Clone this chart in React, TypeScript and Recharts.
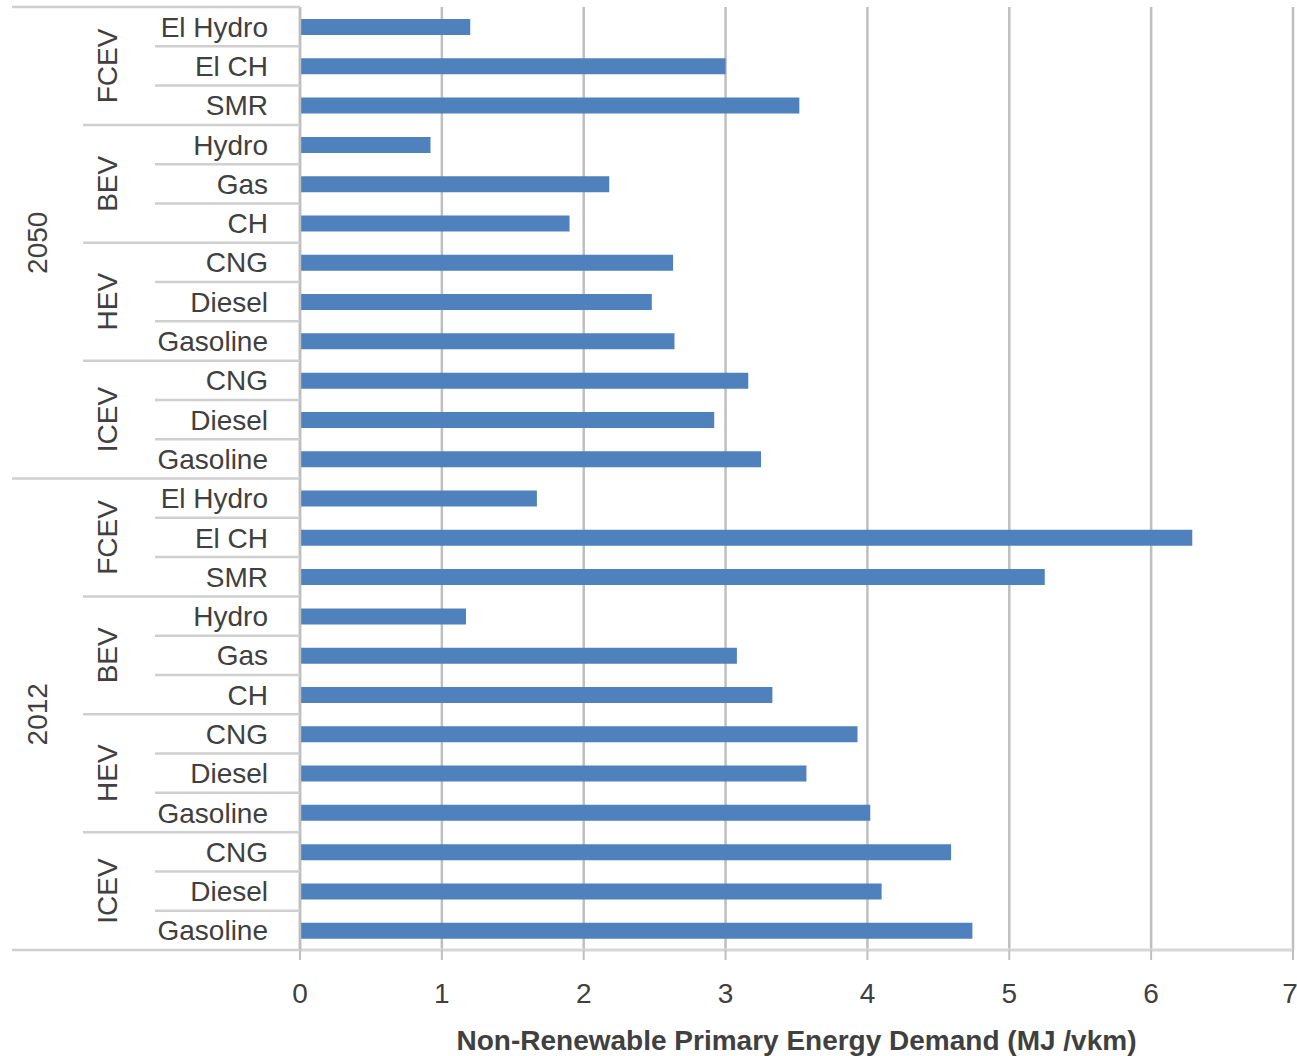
import React from 'react';
import { BarChart, Bar, XAxis, YAxis, CartesianGrid, Label } from 'recharts';

const years = ['2050', '2012'];
const groups = ['FCEV', 'BEV', 'HEV', 'ICEV'];
const leaves: string[][] = [
  ['El Hydro', 'El CH', 'SMR'],
  ['Hydro', 'Gas', 'CH'],
  ['CNG', 'Diesel', 'Gasoline'],
  ['CNG', 'Diesel', 'Gasoline'],
];
const values2050 = [1.2, 3.0, 3.52, 0.92, 2.18, 1.9, 2.63, 2.48, 2.64, 3.16, 2.92, 3.25];
const values2012 = [1.67, 6.29, 5.25, 1.17, 3.08, 3.33, 3.93, 3.57, 4.02, 4.59, 4.1, 4.74];
const xTicks = [0, 1, 2, 3, 4, 5, 6, 7];
const axisTitle = 'Non-Renewable Primary Energy Demand (MJ /vkm)';

const seriesByYear = [values2050, values2012];

type Row = { key: string; year: string; group: string; leaf: string; value: number };

const rows: Row[] = [];
years.forEach((year, yi) => {
  let k = 0;
  groups.forEach((group, gi) => {
    leaves[gi].forEach((leaf) => {
      rows.push({ key: `${year}|${group}|${leaf}`, year, group, leaf, value: seriesByYear[yi][k] });
      k++;
    });
  });
});

const W = 1297;
const H = 1056;
const margin = { top: 7, right: 4, left: 12, bottom: 0 };
const yAxisWidth = 288;
const xAxisHeight = 106;
const plotLeft = margin.left + yAxisWidth;
const plotH = H - margin.top - margin.bottom - xAxisHeight;
const band = plotH / rows.length;

const font = '"Liberation Sans", Arial, sans-serif';
const textColor = '#404040';
const sepColor = '#cfcfcf';

const CategoryTick: React.FC<any> = ({ x, y, payload }) => {
  const i = rows.findIndex((r) => r.key === payload.value);
  if (i < 0) return null;
  const row = rows[i];
  const perYear = groups.length * 3;
  const bottom = y + band / 2;
  let x0 = 155;
  if (i % perYear === perYear - 1) x0 = margin.left;
  else if (i % 3 === 2) x0 = 83;
  return (
    <g>
      {i === 0 && (
        <line x1={margin.left} x2={plotLeft} y1={y - band / 2} y2={y - band / 2} stroke={sepColor} strokeWidth={2.5} />
      )}
      <line x1={x0} x2={plotLeft} y1={bottom} y2={bottom} stroke={sepColor} strokeWidth={2.5} />
      <text x={x} y={y} dy="0.36em" textAnchor="end" fontSize={28} fill={textColor} fontFamily={font}>
        {row.leaf}
      </text>
      {i % 3 === 1 && (
        <text x={107} y={y} dy="0.36em" textAnchor="middle" fontSize={28} fill={textColor} fontFamily={font}
          transform={`rotate(-90, 107, ${y})`}>
          {row.group}
        </text>
      )}
      {i % perYear === perYear / 2 - 1 && (
        <text x={37} y={bottom} dy="0.36em" textAnchor="middle" fontSize={28} fill={textColor} fontFamily={font}
          transform={`rotate(-90, 37, ${bottom})`}>
          {row.year}
        </text>
      )}
    </g>
  );
};

const App: React.FC = () => {
  return (
    <div style={{ position: 'absolute', left: 0, top: 0, width: W, height: H, background: '#fff' }}>
      <BarChart width={W} height={H} data={rows} layout="vertical" margin={margin} barCategoryGap={0}>
        <CartesianGrid horizontal={false} stroke="#bfbfbf" strokeWidth={2.5} />
        <XAxis
          type="number"
          domain={[0, 7]}
          ticks={xTicks}
          height={xAxisHeight}
          axisLine={{ stroke: '#d6d6d6', strokeWidth: 3 }}
          tickLine={{ stroke: '#bfbfbf', strokeWidth: 2 }}
          tickSize={10}
          tickMargin={23}
          tick={{ fontSize: 28, fill: textColor, fontFamily: font }}
        >
          <Label
            value={axisTitle}
            position="insideBottom"
            offset={6}
            style={{ fontSize: 28, fontWeight: 'bold', fill: textColor, fontFamily: font }}
          />
        </XAxis>
        <YAxis
          type="category"
          dataKey="key"
          width={yAxisWidth}
          interval={0}
          tickLine={false}
          tickSize={0}
          tickMargin={32}
          axisLine={{ stroke: '#bfbfbf', strokeWidth: 2.5 }}
          tick={<CategoryTick />}
        />
        <Bar dataKey="value" fill="#4f81bd" barSize={16} isAnimationActive={false} />
      </BarChart>
    </div>
  );
};

export default App;
